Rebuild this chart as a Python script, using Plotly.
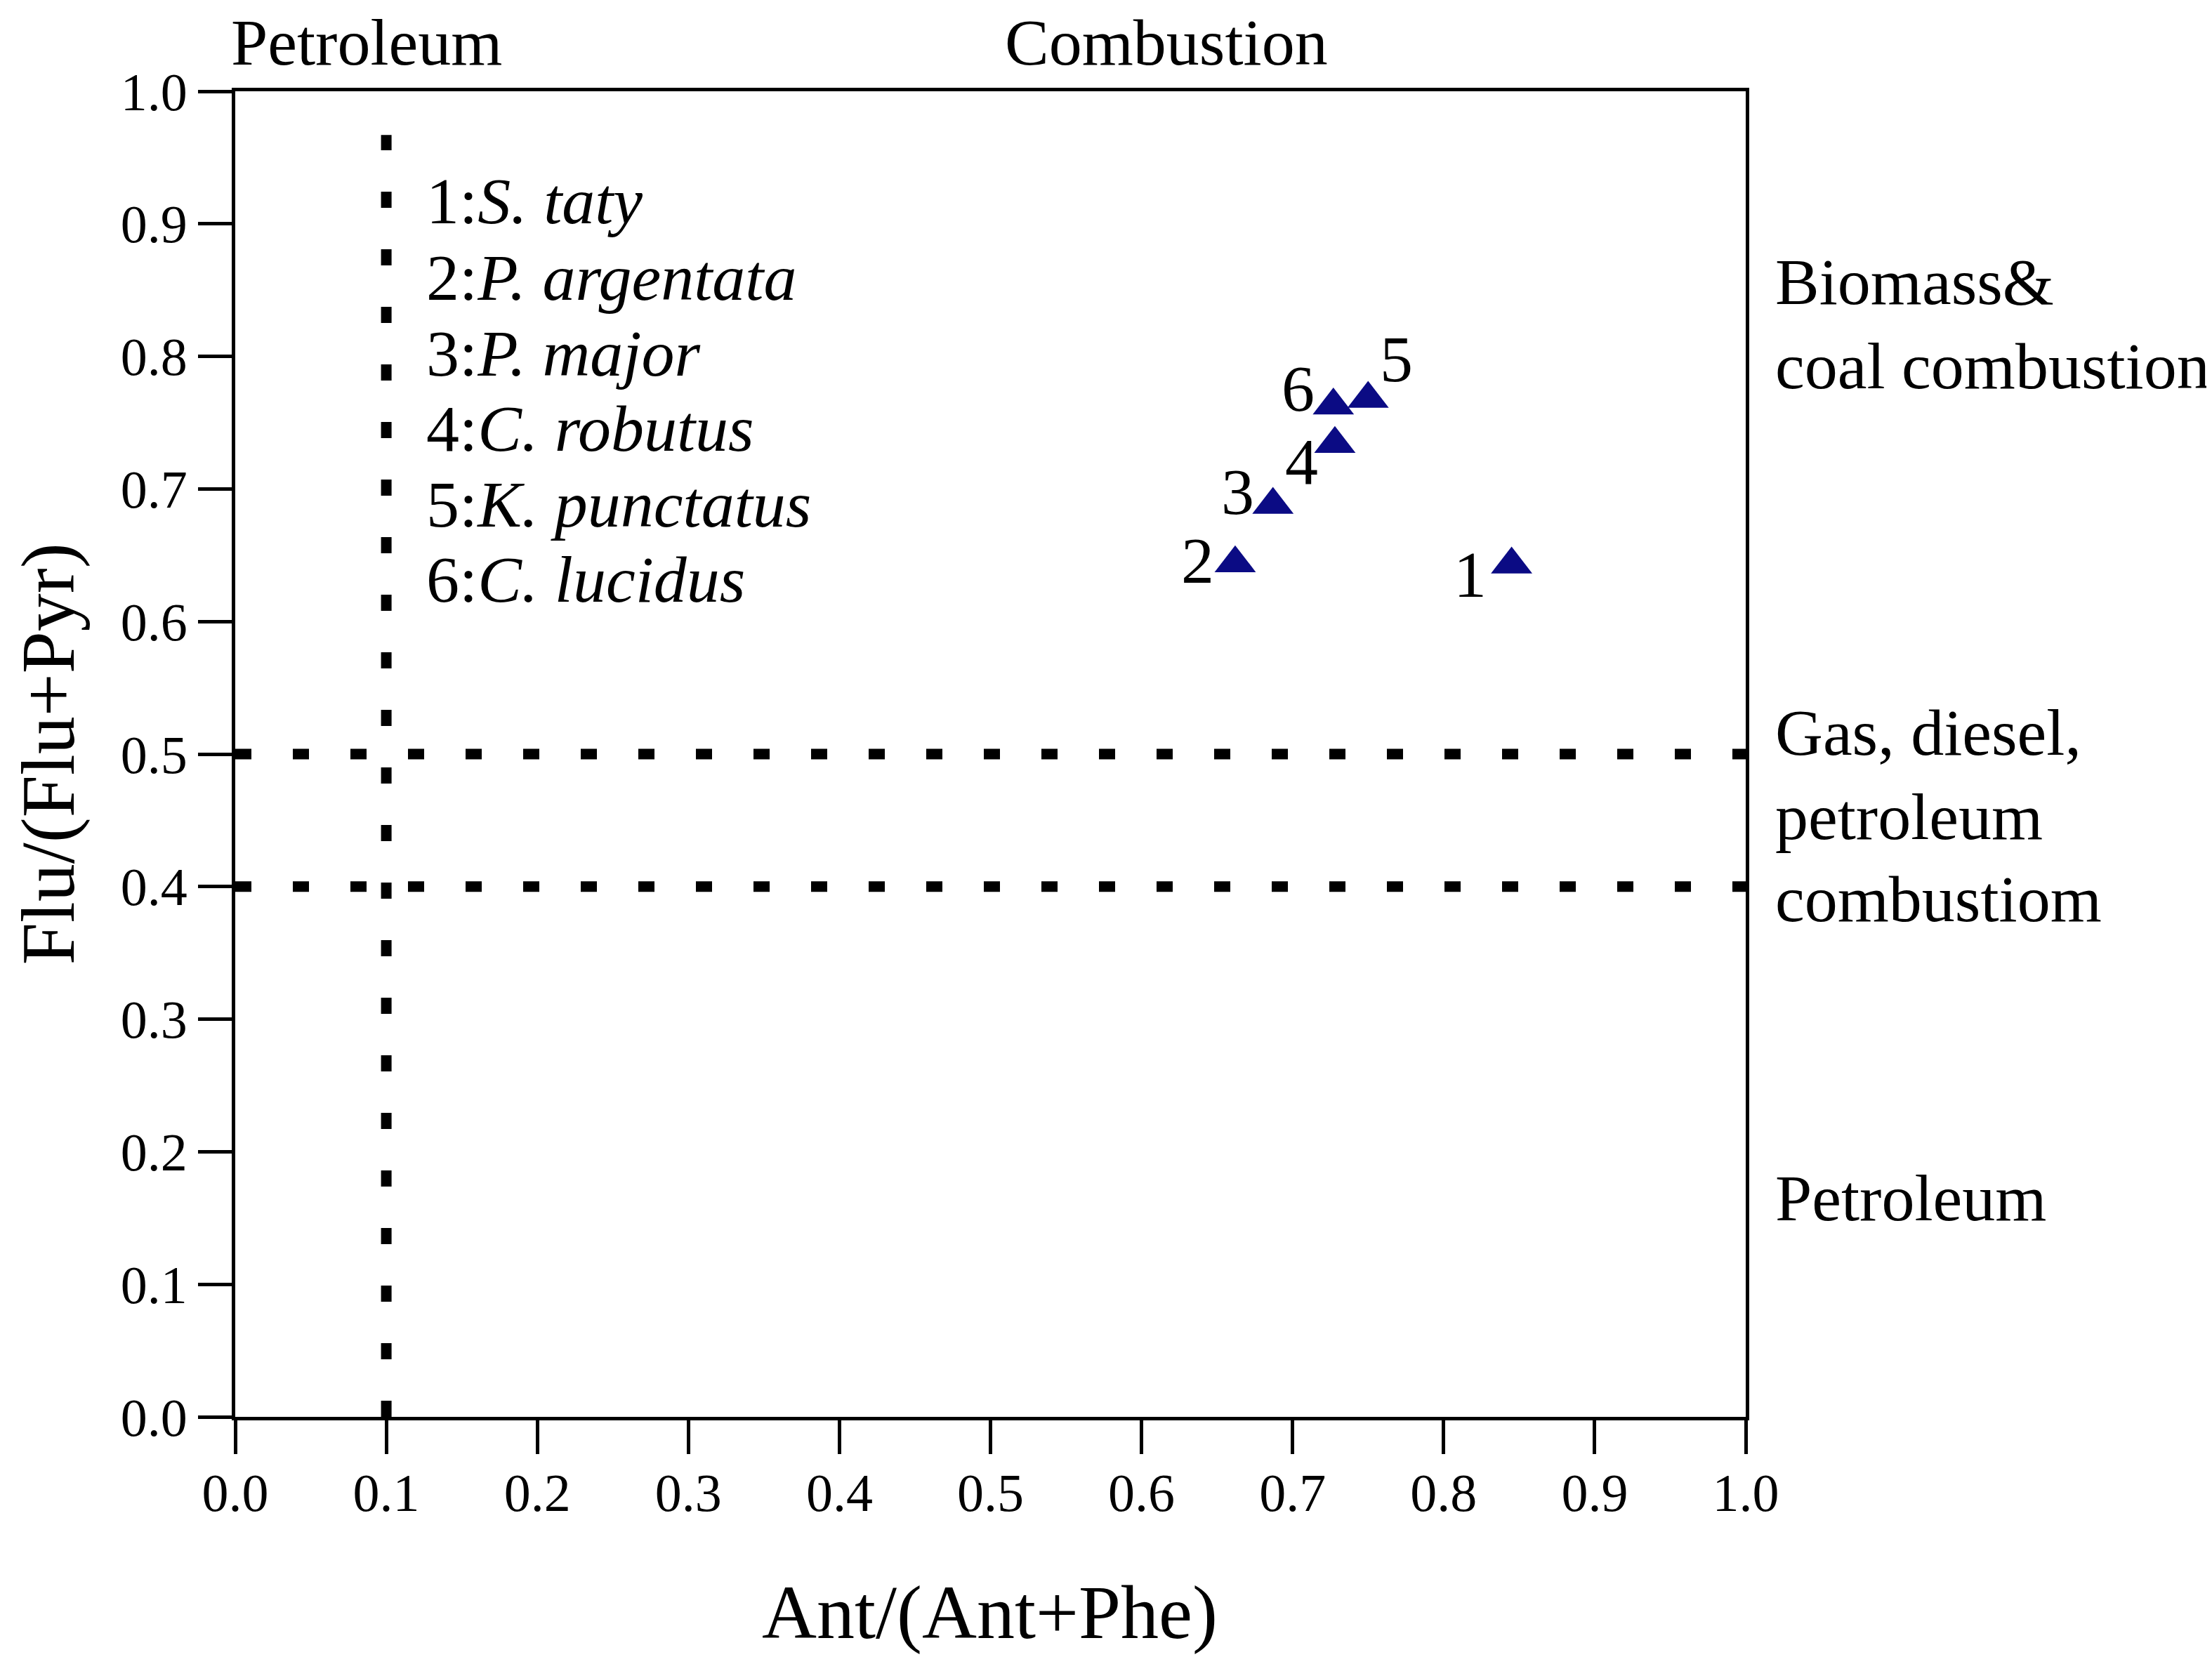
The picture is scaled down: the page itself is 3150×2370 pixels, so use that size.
import plotly.graph_objects as go

# ratios for each species
species_no = ["1", "2", "3", "4", "5", "6"]
species = ["S. taty", "P. argentata", "P. major", "C. robutus", "K. punctatus", "C. lucidus"]
ant_ratio = [0.845, 0.662, 0.687, 0.728, 0.750, 0.727]
flu_ratio = [0.643, 0.644, 0.688, 0.734, 0.768, 0.763]

# source thresholds
ant_cut = 0.1
flu_cuts = [0.4, 0.5]

FONT = "Liberation Serif"
BLUE = "#0b0b84"
DOT = dict(color="black", width=15, dash="23px,59px")

fig = go.Figure()

# dotted threshold lines
fig.add_trace(go.Scatter(x=[ant_cut, ant_cut], y=[0, 0.967], mode="lines",
                         line=DOT, hoverinfo="skip"))
for c in flu_cuts:
    fig.add_trace(go.Scatter(x=[0, 1], y=[c, c], mode="lines",
                             line=DOT, hoverinfo="skip"))

# the points
fig.add_trace(go.Scatter(x=ant_ratio, y=flu_ratio, mode="markers",
                         marker=dict(symbol="triangle-up", size=51, color=BLUE,
                                     line=dict(width=0))))

# number next to each point (pixel shifts)
shifts = [(-59, -14), (-53, 4), (-50, 19), (-47, -25), (40, 57), (-50, 24)]
for n, xv, yv, (dx, dy) in zip(species_no, ant_ratio, flu_ratio, shifts):
    fig.add_annotation(x=xv, y=yv, text=n, showarrow=False, xshift=dx, yshift=dy,
                       xanchor="center", yanchor="middle",
                       font=dict(family=FONT, size=94, color="black"))


def label(text, x, y, xanchor="left", size=94, angle=0):
    fig.add_annotation(xref="paper", yref="paper", x=x, y=y, text=text,
                       xanchor=xanchor, yanchor="middle", textangle=angle,
                       showarrow=False, font=dict(family=FONT, size=size, color="black"))


# species list
leg_y = [0.9172, 0.8596, 0.8024, 0.7458, 0.6887, 0.6320]
for n, s, yy in zip(species_no, species, leg_y):
    label(f"{n}:<i>{s}</i>", 0.1255, yy)

# region labels
top_labels = [("Petroleum", 0.0868), ("Combustion", 0.6165)]
for t, xx in top_labels:
    label(t, xx, 1.037, xanchor="center")

right_labels = [("Biomass&", 0.8564), ("coal combustion", 0.7929),
                ("Gas, diesel,", 0.5162), ("petroleum", 0.4527),
                ("combustiom", 0.3908), ("Petroleum", 0.1654)]
for t, yy in right_labels:
    label(t, 1.0185, yy)

# axis titles
label("Ant/(Ant+Phe)", 0.4995, -0.148, xanchor="center", size=108)
label("Flu/(Flu+Pyr)", -0.1235, 0.5, xanchor="center", size=108, angle=-90)

axis = dict(range=[0, 1], dtick=0.1, tick0=0, tickformat=".1f", ticks="outside",
            ticklen=48, tickwidth=5, tickcolor="black", showline=True, linewidth=5,
            linecolor="black", mirror=True, showgrid=False, zeroline=False,
            tickfont=dict(family=FONT, size=76, color="black"))

fig.update_layout(width=3150, height=2370, showlegend=False,
                  plot_bgcolor="white", paper_bgcolor="white",
                  margin=dict(l=327, r=672, t=122, b=360),
                  xaxis=dict(axis, ticklabelstandoff=-10),
                  yaxis=dict(axis, ticklabelstandoff=0))

fig.write_html("out.html")
